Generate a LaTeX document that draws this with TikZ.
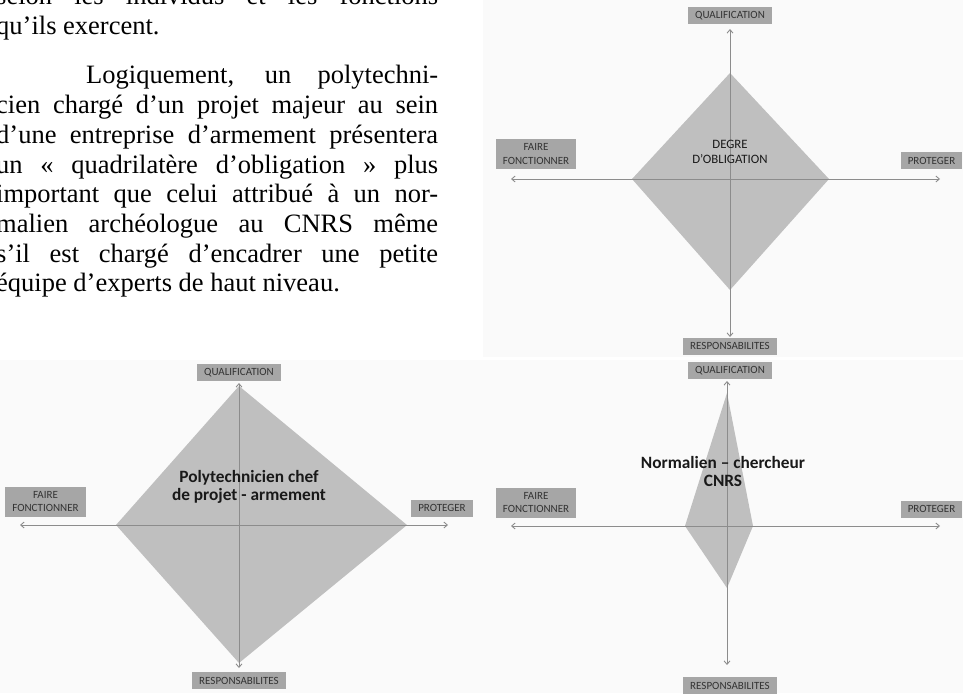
\documentclass[tikz,border=0pt]{standalone}
\usepackage{fontspec}
\setmainfont{Liberation Serif}
\newfontfamily\boxfont{Carlito}
\usetikzlibrary{arrows.meta}

\begin{document}
\begin{tikzpicture}[x=1pt,y=-1pt,
        boxlbl/.style={fill=black!35, text=black!80, inner xsep=7pt, inner ysep=0pt,
            minimum height=17pt, align=center, font=\boxfont\fontsize{11}{13.5}\selectfont},
        kite/.style={fill=black!25},
        axis/.style={draw=black!45, line width=0.9pt, <->, >={Straight Barb[length=3.5pt,width=6pt]}},
        midtxt/.style={align=center, text=black!90, font=\boxfont\bfseries\fontsize{17.3}{18.5}\selectfont}]
        \useasboundingbox (0,0) rectangle (963,693);
        \fill [black!2] (483,0) rectangle (963,357);
        \fill [black!2] (0,360) rectangle (963,693);
        % texte
        \node [anchor=base west, inner sep=0pt] (texte) at (-4,5) {\begin{minipage}[t]{442pt}
            \fontsize{26.5pt}{29.7pt}\selectfont
            \parindent=0pt \parskip=19.6pt \tolerance=10000 \hbadness=10000 \hyphenpenalty=10000
            selon les individus et les fonctions\linebreak
            qu'ils exercent.\par
            \hspace*{90pt}Logiquement, un polytechni-\linebreak
            cien chargé d'un projet majeur au sein\linebreak
            d'une entreprise d'armement présentera\linebreak
            un « quadrilatère d'obligation » plus\linebreak
            important que celui attribué à un nor-\linebreak
            malien archéologue au CNRS même\linebreak
            s'il est chargé d'encadrer une petite\linebreak
            équipe d'experts de haut niveau.\par
        \end{minipage}};
        % degre d'obligation
        \begin{scope}
            \fill [kite] (730,73) -- (829,179) -- (730,290) -- (632,179) -- cycle;
            \coordinate (n1) at (730,29);
            \coordinate (s1) at (730,337);
            \coordinate (w1) at (511,179);
            \coordinate (e1) at (940,179);
            \draw [axis] (w1) -- (e1);
            \draw [axis] (n1) -- (s1);
            \node [boxlbl] (qual1) at (730,16) {QUALIFICATION};
            \node [boxlbl] (resp1) at (730,346) {RESPONSABILITES};
            \node [boxlbl, minimum height=30pt] (faire1) at (536,154) {FAIRE\\FONCTIONNER};
            \node [boxlbl] (prot1) at (931.5,160.5) {PROTEGER};
            \node [midtxt, font=\boxfont\fontsize{12.8}{15}\selectfont] (deg1) at (730,151.5) {DEGRE\\D’OBLIGATION};
        \end{scope}
        % polytechnicien
        \begin{scope}
            \fill [kite] (239,386) -- (407,525) -- (239,663) -- (116,525) -- cycle;
            \coordinate (n2) at (239,383);
            \coordinate (s2) at (239,668);
            \coordinate (w2) at (20,525);
            \coordinate (e2) at (448,525);
            \draw [axis] (w2) -- (e2);
            \draw [axis] (n2) -- (s2);
            \node [boxlbl] (qual2) at (239,372.5) {QUALIFICATION};
            \node [boxlbl] (resp2) at (239,680.5) {RESPONSABILITES};
            \node [boxlbl, minimum height=30pt] (faire2) at (45.5,501.5) {FAIRE\\FONCTIONNER};
            \node [boxlbl] (prot2) at (442,508) {PROTEGER};
            \node [midtxt] (poly) at (249,487) {Polytechnicien chef\\de projet - armement};
        \end{scope}
        % normalien
        \begin{scope}
            \fill [kite] (727,393) -- (753,526) -- (727,588) -- (685,526) -- cycle;
            \coordinate (n3) at (727,381);
            \coordinate (s3) at (727,665);
            \coordinate (w3) at (511,526);
            \coordinate (e3) at (940,526);
            \draw [axis] (w3) -- (e3);
            \draw [axis] (n3) -- (s3);
            \node [boxlbl] (qual3) at (730,370.5) {QUALIFICATION};
            \node [boxlbl] (resp3) at (730,685.5) {RESPONSABILITES};
            \node [boxlbl, minimum height=30pt] (faire3) at (536,502.5) {FAIRE\\FONCTIONNER};
            \node [boxlbl] (prot3) at (931.5,509) {PROTEGER};
            \node [midtxt] (norm) at (723,471.5) {Normalien – chercheur\\CNRS};
        \end{scope}
    \end{tikzpicture}
\end{document}
